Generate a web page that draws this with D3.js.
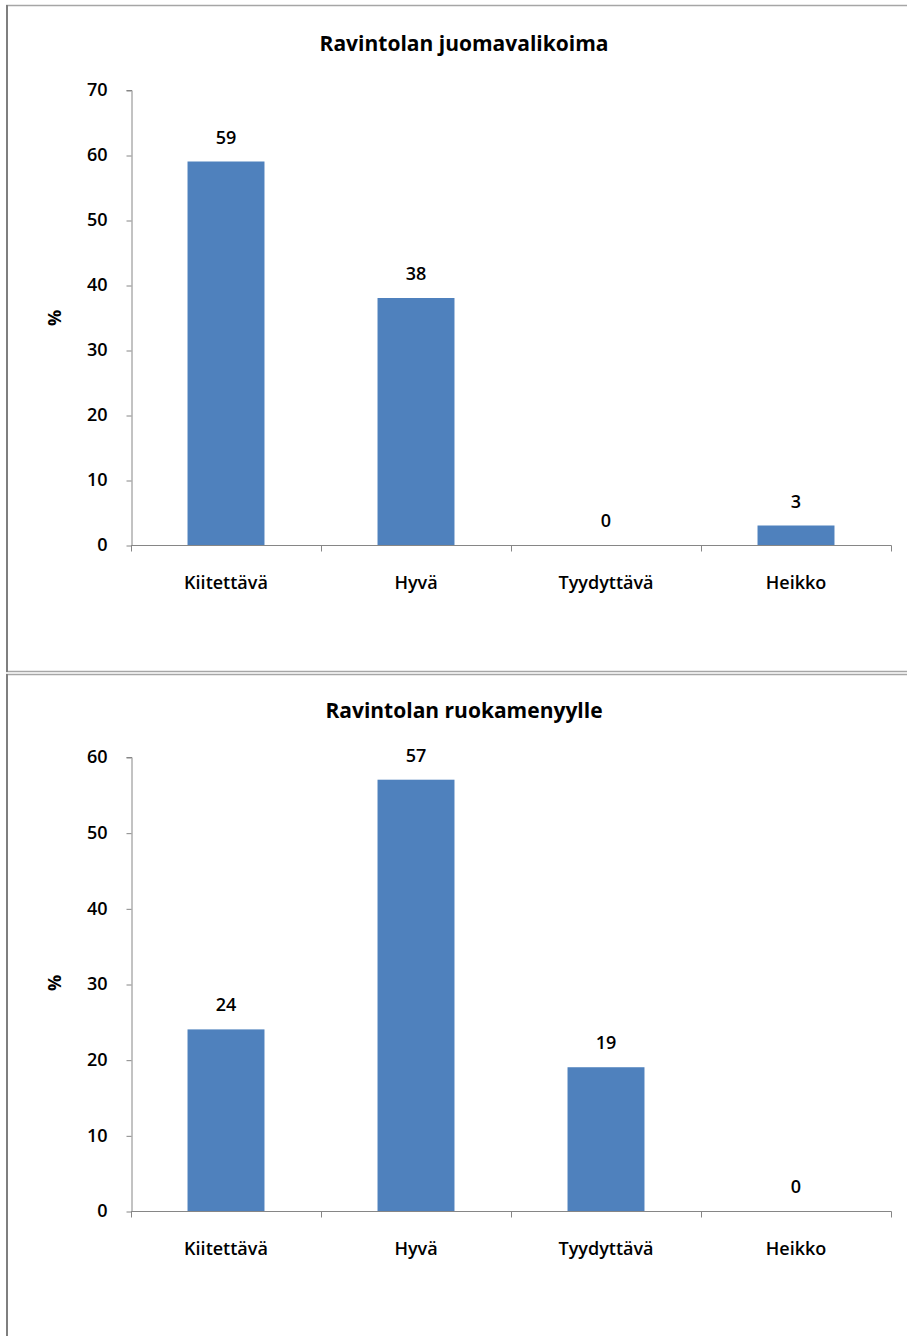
<!DOCTYPE html>
<html>
<head>
<meta charset="utf-8">
<script src="https://cdn.jsdelivr.net/npm/d3@7"></script>
<style>
  html, body { margin: 0; padding: 0; background: #fff; }
  svg { display: block; }
  text { font-family: "Open Sans", sans-serif; fill: #000; }
</style>
</head>
<body>
<svg id="chart" width="907" height="1336"></svg>
<script>
// Survey answers (%), restaurant ratings
const categories = ["Kiitettävä", "Hyvä", "Tyydyttävä", "Heikko"];
const drinksValues = [59, 38, 0, 3];
const menuValues = [24, 57, 19, 0];
const drinksTicks = [0, 10, 20, 30, 40, 50, 60, 70];
const menuTicks = [0, 10, 20, 30, 40, 50, 60];
const titles = ["Ravintolan juomavalikoima", "Ravintolan ruokamenyylle"];
const yLabel = "%";

const svg = d3.select("#chart");
const barColor = "#4f81bd";
const axisColor = "#868686";
const labelSize = 18;
const labelWeight = 600;

// Panel frames
svg.append("line").attr("x1", 6).attr("x2", 907).attr("y1", 5.5).attr("y2", 5.5)
  .attr("stroke", "#a6a6a6").attr("stroke-width", 1.5);
svg.append("line").attr("x1", 6).attr("x2", 907).attr("y1", 671.5).attr("y2", 671.5)
  .attr("stroke", "#a6a6a6").attr("stroke-width", 1.5);
svg.append("line").attr("x1", 6).attr("x2", 907).attr("y1", 674.5).attr("y2", 674.5)
  .attr("stroke", "#a6a6a6").attr("stroke-width", 1.5);
svg.append("line").attr("x1", 7).attr("x2", 7).attr("y1", 5).attr("y2", 672)
  .attr("stroke", "#7f7f7f").attr("stroke-width", 2);
svg.append("line").attr("x1", 7).attr("x2", 7).attr("y1", 674).attr("y2", 1336)
  .attr("stroke", "#7f7f7f").attr("stroke-width", 2);

function drawPanel(cfg) {
  const g = svg.append("g");
  const x = d3.scaleBand().domain(categories).range([131, 891]).paddingInner(0).paddingOuter(0);
  const y = d3.scaleLinear().domain([0, d3.max(cfg.ticks)]).range([cfg.y0, cfg.yTop]);
  const barW = x.bandwidth() * 0.405;

  // title
  g.append("text").attr("x", 464).attr("y", cfg.titleY)
    .attr("text-anchor", "middle").attr("font-weight", "bold").attr("font-size", 21)
    .text(cfg.title);

  // y axis
  const yAxis = d3.axisLeft(y).tickValues(cfg.ticks).tickSize(5).tickPadding(19);
  const ya = g.append("g").attr("transform", "translate(131.5,0)").call(yAxis);
  ya.select(".domain").attr("stroke", axisColor).attr("d", `M-5,${y(d3.max(cfg.ticks)) + 0.5}H0.5V${cfg.y0 + 0.5}`);
  ya.selectAll(".tick line").attr("stroke", axisColor).attr("transform", "translate(0,0.5)");
  ya.selectAll(".tick text").attr("font-size", labelSize).attr("font-weight", labelWeight).attr("fill", "#000")
    .attr("font-family", "'Open Sans', sans-serif");

  // x axis
  const xa = g.append("g").attr("transform", `translate(0,${cfg.y0 + 0.5})`);
  xa.append("line").attr("x1", 131).attr("x2", 891.5).attr("y1", 0).attr("y2", 0).attr("stroke", axisColor);
  const tickXs = [131].concat(categories.map(c => x(c) + x.bandwidth()));
  xa.selectAll(".xt").data(tickXs).join("line").attr("class", "xt")
    .attr("x1", d => d + 0.5).attr("x2", d => d + 0.5).attr("y1", 0).attr("y2", 6).attr("stroke", axisColor);
  xa.selectAll(".xl").data(categories).join("text").attr("class", "xl")
    .attr("x", d => x(d) + x.bandwidth() / 2).attr("y", 43)
    .attr("text-anchor", "middle").attr("font-size", labelSize).attr("font-weight", labelWeight)
    .text(d => d);

  // bars
  g.selectAll(".bar").data(cfg.values).join("rect").attr("class", "bar")
    .attr("x", (d, i) => x(categories[i]) + (x.bandwidth() - barW) / 2)
    .attr("width", barW)
    .attr("y", d => y(d))
    .attr("height", d => cfg.y0 - y(d))
    .attr("fill", barColor);

  // value labels
  g.selectAll(".val").data(cfg.values).join("text").attr("class", "val")
    .attr("x", (d, i) => x(categories[i]) + x.bandwidth() / 2)
    .attr("y", d => y(d) - 18)
    .attr("text-anchor", "middle").attr("font-size", labelSize).attr("font-weight", labelWeight)
    .text(d => d);

  // y label
  g.append("text").attr("transform", `translate(${cfg.labelX},${cfg.labelY}) rotate(-90)`)
    .attr("text-anchor", "middle").attr("font-size", labelSize).attr("font-weight", "bold")
    .text(yLabel);
}

drawPanel({ title: titles[0], titleY: 51, values: drinksValues, ticks: drinksTicks,
  y0: 545, yTop: 90, labelX: 61, labelY: 318 });
drawPanel({ title: titles[1], titleY: 718, values: menuValues, ticks: menuTicks,
  y0: 1211, yTop: 757, labelX: 61, labelY: 983 });
</script>
</body>
</html>
